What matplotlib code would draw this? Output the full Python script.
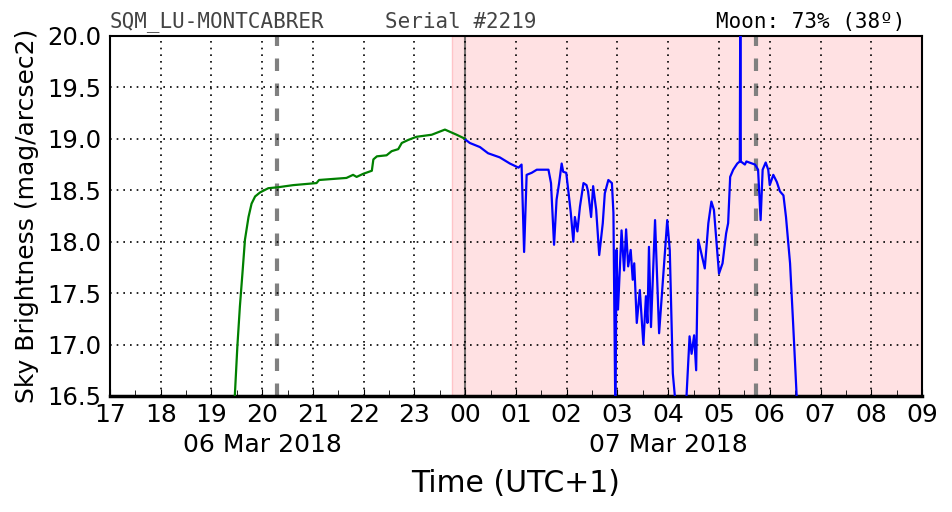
import matplotlib
matplotlib.use("Agg")
import matplotlib.pyplot as plt
import matplotlib.transforms as mtransforms
import numpy as np

# Sky brightness readings, time in hours after 00:00 of 06 Mar (24+ = 07 Mar)
twilight_hours = [19.33, 19.46, 19.51, 19.56, 19.61, 19.66, 19.73, 19.79, 19.86, 19.96,
                  20.12, 20.32, 20.61, 21.07, 21.12, 21.66, 21.79, 21.86, 21.99, 22.16,
                  22.19, 22.26, 22.45, 22.55, 22.68, 22.75, 22.88, 23.04, 23.34, 23.60,
                  23.83, 24.00]
twilight_mag = [15.80, 16.50, 16.98, 17.37, 17.69, 18.02, 18.24, 18.37, 18.44, 18.48,
                18.52, 18.53, 18.55, 18.57, 18.60, 18.62, 18.65, 18.63, 18.66, 18.69,
                18.80, 18.83, 18.84, 18.88, 18.90, 18.96, 18.99, 19.02, 19.04, 19.09,
                19.04, 19.00]

night_hours = [24.01, 24.09, 24.29, 24.45, 24.68, 24.88, 25.05, 25.11, 25.16, 25.21,
               25.31, 25.41, 25.64, 25.69, 25.75, 25.80, 25.85, 25.90, 25.93, 25.99,
               26.03, 26.08, 26.13, 26.16, 26.21, 26.26, 26.33, 26.39, 26.42, 26.48,
               26.52, 26.58, 26.64, 26.71, 26.75, 26.82, 26.89, 26.92, 26.96, 26.98,
               27.01, 27.08, 27.13, 27.17, 27.21, 27.26, 27.30, 27.33, 27.38, 27.44,
               27.51, 27.56, 27.59, 27.62, 27.66, 27.74, 27.82, 27.90, 27.98, 28.03,
               28.09, 28.13, 28.23, 28.36, 28.42, 28.46, 28.51, 28.55, 28.59, 28.72,
               28.79, 28.85, 28.90, 29.00, 29.07, 29.14, 29.18, 29.22, 29.28, 29.36,
               29.41, 29.42, 29.43, 29.51, 29.54, 29.71, 29.77, 29.82, 29.86, 29.92,
               29.97, 30.00, 30.07, 30.14, 30.20, 30.27, 30.32, 30.40, 30.46, 30.53,
               30.58]
night_mag = [18.99, 18.96, 18.92, 18.86, 18.82, 18.76, 18.72, 18.75, 17.90, 18.65,
             18.67, 18.70, 18.70, 18.57, 17.97, 18.41, 18.57, 18.76, 18.68, 18.67,
             18.50, 18.28, 18.00, 18.24, 18.10, 18.34, 18.57, 18.55, 18.49, 18.24,
             18.54, 18.31, 17.87, 18.18, 18.47, 18.60, 18.57, 18.28, 16.20, 17.92,
             17.34, 18.11, 17.72, 18.12, 17.76, 17.92, 17.63, 17.79, 17.21, 17.53,
             17.00, 17.47, 17.21, 17.95, 17.17, 18.21, 17.11, 17.66, 18.21, 17.92,
             16.72, 16.50, 16.20, 16.50, 17.08, 16.91, 17.09, 16.75, 18.02, 17.74,
             18.18, 18.39, 18.31, 17.69, 17.79, 18.08, 18.18, 18.63, 18.70, 18.76,
             18.78, 20.50, 18.78, 18.75, 18.78, 18.75, 18.70, 18.21, 18.70, 18.77,
             18.70, 18.55, 18.65, 18.58, 18.49, 18.45, 18.24, 17.79, 17.21, 16.50,
             16.20]

moon_transits = [20.29, 29.73]
astro_night_start = 23.74
midnight = 24.0
x_start, x_end = 17, 33
date_labels = ["06 Mar 2018", "07 Mar 2018"]
date_label_pos = [20, 28]

fig = plt.figure(figsize=(9.52, 5.12), dpi=100)
ax = fig.add_axes([0.1155, 0.2266, 0.853, 0.7031])

ax.axvspan(astro_night_start, x_end, facecolor="#ffe1e3", edgecolor="#ffc4c8", lw=1, zorder=0)
ax.axvline(midnight, color="#555555", alpha=0.8, lw=1.5, zorder=1)
for t in moon_transits:
    ax.axvline(t, color="gray", lw=3, dashes=(3, 3), zorder=1)

ax.plot(twilight_hours, twilight_mag, color="#008000", lw=1.6, zorder=3)
ax.plot(night_hours, night_mag, color="#0000ff", lw=1.6, zorder=3)

ax.set_xlim(x_start, x_end)
ax.set_ylim(16.5, 20.0)
hours = np.arange(x_start, x_end + 1)
ax.set_xticks(hours)
ax.set_xticklabels(["%02d" % (h % 24) for h in hours])
ax.set_xticks(np.arange(x_start + 0.5, x_end, 1.0), minor=True)
ax.set_yticks(np.arange(16.5, 20.01, 0.5))
ax.set_yticklabels(["%.1f" % v for v in np.arange(16.5, 20.01, 0.5)])
ax.tick_params(axis="x", which="both", direction="in", top=False, labelsize=18, pad=5)
ax.tick_params(axis="x", which="major", length=5)
ax.tick_params(axis="x", which="minor", length=4)
ax.tick_params(axis="y", length=0, labelsize=17.5, pad=6)

ax.grid(True, color="black", linestyle=(0, (1, 3)), lw=1.2)
ax.set_axisbelow(False)
for s in ax.spines.values():
    s.set_linewidth(1.5)
ax.spines["bottom"].set_linewidth(2.5)

ax.set_ylabel("Sky Brightness (mag/arcsec2)", fontsize=18, labelpad=6)
ax.set_xlabel("Time (UTC+1)", fontsize=21.5, labelpad=30)

trans = mtransforms.blended_transform_factory(ax.transData, ax.transAxes)
for lbl, pos in zip(date_labels, date_label_pos):
    ax.text(pos, -0.135, lbl, transform=trans, ha="center", va="center", fontsize=18)

ax.text(0.0, 1.01, "SQM_LU-MONTCABRER", transform=ax.transAxes, family="DejaVu Sans Mono",
        fontsize=15, color="#444444", ha="left", va="bottom")
ax.text(0.339, 1.01, "Serial #2219", transform=ax.transAxes, family="DejaVu Sans Mono",
        fontsize=15, color="#444444", ha="left", va="bottom")
ax.text(0.979, 1.01, "Moon: 73% (38º)", transform=ax.transAxes, family="DejaVu Sans Mono",
        fontsize=15, color="black", ha="right", va="bottom")

fig.savefig("out.png", dpi=100)
